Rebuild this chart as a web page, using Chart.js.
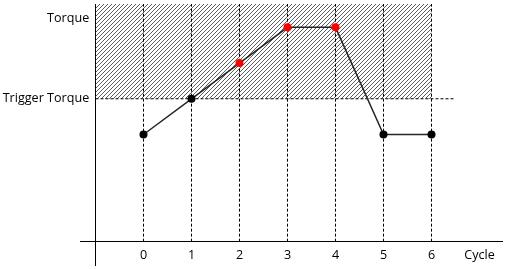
<!DOCTYPE html>
<html>
<head>
<meta charset="utf-8">
<script src="https://cdn.jsdelivr.net/npm/chart.js@4.4.1/dist/chart.umd.min.js"></script>
<style>
  html, body { margin: 0; padding: 0; background: #fff; }
  canvas { display: block; }
</style>
</head>
<body>
<canvas id="c" width="506" height="269"></canvas>
<script>
// ---- data ----
const cycles = [0, 1, 2, 3, 4, 5, 6];
const torqueValues = [3, 4, 5, 6, 6, 3, 3];
const triggerTorque = 4;
const yTickValues = [4, 6.25];
const yTickLabels = ['Trigger Torque', 'Torque'];
const xTickValues = [0, 1, 2, 3, 4, 5, 6, 7];
const xTickLabels = ['0', '1', '2', '3', '4', '5', '6', 'Cycle'];
const yAxisAt = -1;          // x value where the vertical axis crosses
const yLabelsAt = -1.13;     // x value where the vertical-axis labels end
const triggerLineEnd = 6.5;  // x value where the trigger line stops

// ---- scale ranges ----
const X_MIN = -63.5 / 48, X_MAX = 358.5 / 48;
const Y_MAX = 239.5 / 36, Y_MIN = -23.5 / 36;

// hatch pattern
function makeHatch() {
  const t = document.createElement('canvas');
  t.width = 4; t.height = 4;
  const g = t.getContext('2d');
  g.fillStyle = '#5a5a5a';
  g.fillRect(3, 0, 1, 1);
  g.fillRect(2, 1, 1, 1);
  g.fillRect(1, 2, 1, 1);
  g.fillRect(0, 3, 1, 1);
  return g.createPattern(t, 'repeat');
}

const lineData = cycles.map((c, i) => ({ x: c, y: torqueValues[i] }));
const pointColors = torqueValues.map(v => v > triggerTorque ? '#ff0000' : '#000000');

const verticalData = [];
cycles.forEach(c => {
  verticalData.push({ x: c, y: 0 }, { x: c, y: Y_MAX }, { x: c, y: null });
});

const zeroPad = s => { s.paddingTop = 0; s.paddingBottom = 0; s.paddingLeft = 0; s.paddingRight = 0; };
const FONT = { family: 'Open Sans', size: 12.6 };

new Chart(document.getElementById('c'), {
  type: 'line',
  data: {
    datasets: [
      {
        data: lineData,
        borderColor: '#262626',
        borderWidth: 1.5,
        pointRadius: 4,
        pointBorderWidth: 0,
        pointBackgroundColor: pointColors,
        pointBorderColor: pointColors,
        fill: false,
        tension: 0
      },
      {
        data: [{ x: yAxisAt, y: triggerTorque }, { x: triggerLineEnd, y: triggerTorque }],
        borderColor: '#000',
        borderWidth: 1,
        borderDash: [3, 2],
        pointRadius: 0,
        fill: false
      },
      {
        data: verticalData,
        borderColor: '#000',
        borderWidth: 1,
        borderDash: [3, 2],
        pointRadius: 0,
        spanGaps: false,
        fill: false
      },
      {
        data: [{ x: yAxisAt, y: Y_MAX }, { x: cycles[cycles.length - 1], y: Y_MAX }],
        borderWidth: 0,
        borderColor: 'rgba(0,0,0,0)',
        backgroundColor: makeHatch(),
        pointRadius: 0,
        fill: { value: triggerTorque }
      }
    ]
  },
  options: {
    responsive: false,
    animation: false,
    events: [],
    layout: { padding: { left: 80, right: 4, top: 3, bottom: 3 } },
    plugins: { legend: { display: false }, tooltip: { enabled: false } },
    scales: {
      x: {
        type: 'linear',
        position: { y: 0 },
        min: X_MIN, max: X_MAX,
        grid: { display: false, drawTicks: false },
        border: { display: true, color: '#000', width: 1 },
        afterBuildTicks: s => { s.ticks = xTickValues.map(v => ({ value: v })); },
        afterFit: s => { s.height = 0; zeroPad(s); },
        ticks: {
          autoSkip: false,
          maxRotation: 0,
          padding: 6,
          color: '#000',
          font: FONT,
          callback: v => { const i = xTickValues.indexOf(v); return i >= 0 ? xTickLabels[i] : ''; }
        }
      },
      y: {
        type: 'linear',
        position: { x: yAxisAt },
        min: Y_MIN, max: Y_MAX,
        grid: { display: false, drawTicks: false },
        border: { display: true, color: '#000', width: 1 },
        afterFit: s => { s.width = 0; zeroPad(s); },
        ticks: { display: false }
      },
      yLabels: {
        type: 'linear',
        axis: 'y',
        position: { x: yLabelsAt },
        min: Y_MIN, max: Y_MAX,
        grid: { display: false, drawTicks: false },
        border: { display: false },
        afterBuildTicks: s => { s.ticks = yTickValues.map(v => ({ value: v })); },
        afterFit: s => { s.width = 0; zeroPad(s); },
        ticks: {
          autoSkip: false,
          padding: 0,
          color: '#000',
          font: FONT,
          callback: v => { const i = yTickValues.indexOf(v); return i >= 0 ? yTickLabels[i] : ''; }
        }
      }
    }
  }
});
</script>
</body>
</html>
